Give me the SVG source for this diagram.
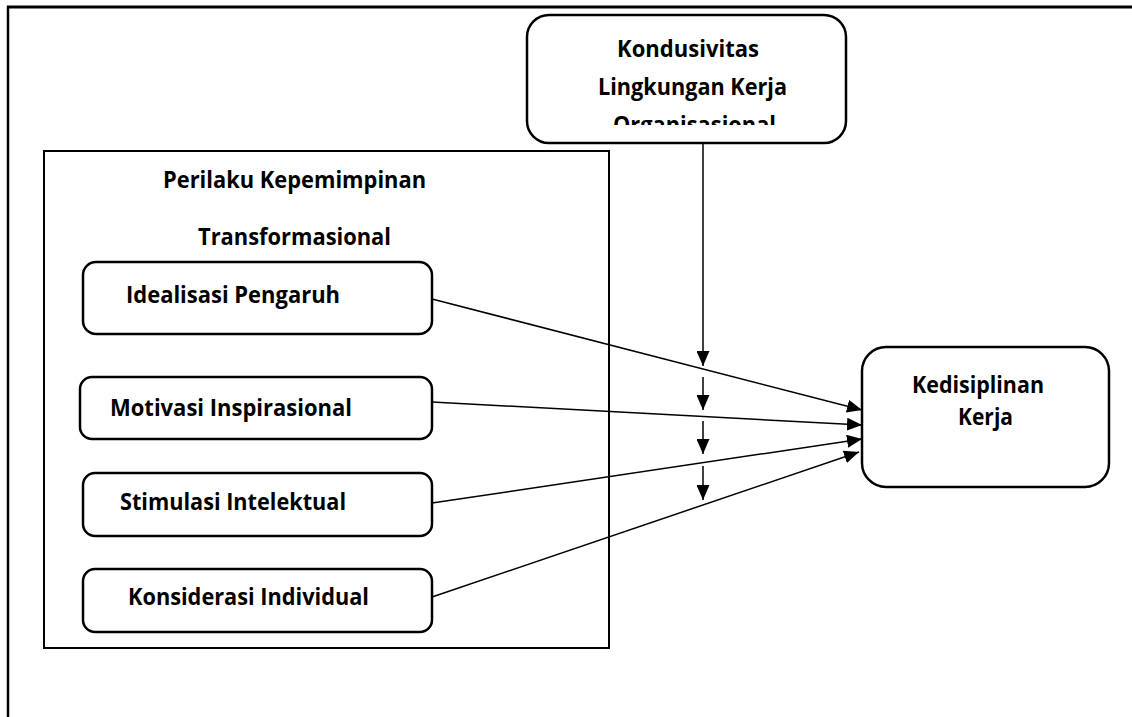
<svg xmlns="http://www.w3.org/2000/svg" width="1132" height="717" viewBox="0 0 1132 717">
<style>
.t{font-family:"Open Sans","Liberation Sans",sans-serif;font-weight:bold;font-size:23px;fill:#000}
.box{fill:#fff;stroke:#000;stroke-width:2.5}
.c{stroke:#000;stroke-width:1.5;fill:none}
</style>
<defs>
<marker id="ah" viewBox="0 0 15 13" refX="15" refY="6.5" markerWidth="15" markerHeight="13" markerUnits="userSpaceOnUse" orient="auto">
<path d="M0,0L15,6.5L0,13Z" fill="#000"/>
</marker>
<clipPath id="kclip"><rect x="527" y="15" width="319" height="110"/></clipPath>
</defs>
<rect width="1132" height="717" fill="#fff"/>
<g id="frame">
<line x1="7" y1="7" x2="1132" y2="7" stroke="#000" stroke-width="3"/>
<line x1="8" y1="6" x2="8" y2="717" stroke="#000" stroke-width="2.5"/>
</g>
<g id="perilaku">
<rect x="44" y="151" width="565" height="497" fill="none" stroke="#000" stroke-width="2"/>
<text class="t" x="163" y="188" textLength="263" lengthAdjust="spacingAndGlyphs">Perilaku Kepemimpinan</text>
<text class="t" x="198" y="245" textLength="193" lengthAdjust="spacingAndGlyphs">Transformasional</text>
</g>
<g id="kondusivitas">
<rect class="box" x="527" y="15" width="319" height="128" rx="22"/>
<g clip-path="url(#kclip)">
<text class="t" x="617" y="57" textLength="142" lengthAdjust="spacingAndGlyphs">Kondusivitas</text>
<text class="t" x="598" y="95" textLength="189" lengthAdjust="spacingAndGlyphs">Lingkungan Kerja</text>
<text class="t" x="613" y="133" textLength="163" lengthAdjust="spacingAndGlyphs">Organisasional</text>
</g>
</g>
<g id="idealisasi">
<rect class="box" x="83" y="262" width="349" height="72" rx="13"/>
<text class="t" x="126" y="303" textLength="214" lengthAdjust="spacingAndGlyphs">Idealisasi Pengaruh</text>
</g>
<g id="motivasi">
<rect class="box" x="80" y="377" width="352" height="62" rx="12"/>
<text class="t" x="110" y="416" textLength="242" lengthAdjust="spacingAndGlyphs">Motivasi Inspirasional</text>
</g>
<g id="stimulasi">
<rect class="box" x="83" y="473" width="349" height="63" rx="12"/>
<text class="t" x="120" y="510" textLength="226" lengthAdjust="spacingAndGlyphs">Stimulasi Intelektual</text>
</g>
<g id="konsiderasi">
<rect class="box" x="83" y="569" width="349" height="63" rx="12"/>
<text class="t" x="128" y="605" textLength="241" lengthAdjust="spacingAndGlyphs">Konsiderasi Individual</text>
</g>
<g id="kedisiplinan">
<rect class="box" x="862" y="347" width="247" height="140" rx="24"/>
<text class="t" x="912" y="393" textLength="132" lengthAdjust="spacingAndGlyphs">Kedisiplinan</text>
<text class="t" x="958" y="425" textLength="55" lengthAdjust="spacingAndGlyphs">Kerja</text>
</g>
<g id="connectors">
<line class="c" x1="703" y1="143" x2="703" y2="366" marker-end="url(#ah)"/>
<line class="c" x1="703" y1="377" x2="703" y2="410" marker-end="url(#ah)"/>
<line class="c" x1="703" y1="421" x2="703" y2="454" marker-end="url(#ah)"/>
<line class="c" x1="703" y1="466" x2="703" y2="500" marker-end="url(#ah)"/>
<line class="c" x1="432" y1="299" x2="862" y2="410" marker-end="url(#ah)"/>
<line class="c" x1="432" y1="402" x2="862" y2="425" marker-end="url(#ah)"/>
<line class="c" x1="432" y1="503" x2="862" y2="439" marker-end="url(#ah)"/>
<line class="c" x1="432" y1="597" x2="859" y2="452" marker-end="url(#ah)"/>
</g>
</svg>
